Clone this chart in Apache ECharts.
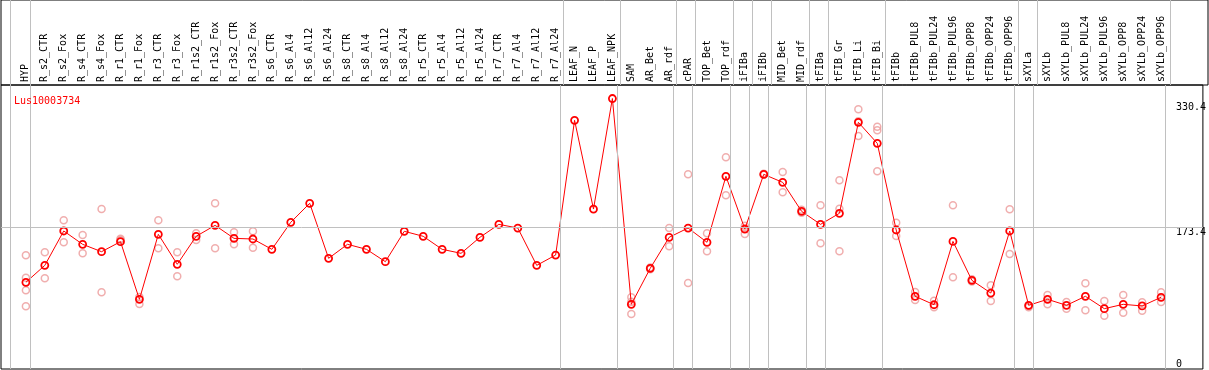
<!DOCTYPE html>
<html><head><meta charset="utf-8">
<script src="https://cdn.jsdelivr.net/npm/echarts@6/dist/echarts.min.js"></script>
<style>html,body{margin:0;padding:0;background:#fff}#c{width:1209px;height:370px}</style>
</head><body><div id="c"></div>
<script>
var title = 'Lus10003734';
var categories = ['HYP','R_s2_CTR','R_s2_Fox','R_s4_CTR','R_s4_Fox','R_r1_CTR','R_r1_Fox','R_r3_CTR','R_r3_Fox','R_r1s2_CTR','R_r1s2_Fox','R_r3s2_CTR','R_r3s2_Fox','R_s6_CTR','R_s6_Al4','R_s6_Al12','R_s6_Al24','R_s8_CTR','R_s8_Al4','R_s8_Al12','R_s8_Al24','R_r5_CTR','R_r5_Al4','R_r5_Al12','R_r5_Al24','R_r7_CTR','R_r7_Al4','R_r7_Al12','R_r7_Al24','LEAF_N','LEAF_P','LEAF_NPK','SAM','AR_Bet','AR_rdf','cPAR','TOP_Bet','TOP_rdf','iFIBa','iFIBb','MID_Bet','MID_rdf','tFIBa','tFIB_Gr','tFIB_Li','tFIB_Bi','tFIBb','tFIBb_PUL8','tFIBb_PUL24','tFIBb_PUL96','tFIBb_OPP8','tFIBb_OPP24','tFIBb_OPP96','sXYLa','sXYLb','sXYLb_PUL8','sXYLb_PUL24','sXYLb_PUL96','sXYLb_OPP8','sXYLb_OPP24','sXYLb_OPP96'];
var means = [105.9,126.6,168.6,152.3,143.3,155.5,85.1,164.5,127.9,162.1,175.5,159.6,158.8,146.2,179.2,202.4,135.2,152.3,146.2,131.1,168.2,162.1,146.2,141.3,160.9,176.7,172.2,126.6,139.2,303.8,195.4,330.4,79.0,123.0,160.9,172.2,154.8,235.4,171.0,237.8,228.0,192.6,176.7,190.2,301.3,275.7,169.8,88.8,78.5,155.9,108.3,92.8,168.6,77.8,85.1,77.8,88.8,73.7,79.0,77.0,87.6];
var replicates = [
  [138.9,111.5,96.1,76.6],[142.5,110.8],[181.6,154.8],[163.7,141.3],[195.4,93.7],[159.2,157.5],[79.4,88.0],[181.6,147.4],[142.5,113.2],[165.7,157.6],
  [202.4,147.4],[167.0,152.3],[168.2,148.2],[],[],[],[],[],[],[],
  [],[],[],[],[],[],[],[],[],[],
  [],[],[87.6,67.2,82.0],[124.0,122.0],[172.2,149.9],[237.8,105.0],[165.7,143.8],[258.6,212.2],[175.0,164.9],[238.5,237.2],
  [240.6,215.8],[194.5,190.8],[200.0,153.5],[230.5,195.8,143.8],[317.2,284.6,302.5],[296.0,291.6,241.5],[178.7,162.5],[94.1,84.3],[83.4,75.4],[200.0,112.0],
  [109.5,107.0],[102.2,83.1],[195.1,140.5],[77.0,75.5],[90.4,79.0],[81.8,73.7],[104.7,71.7],[83.1,65.1],[90.4,68.8],[81.5,71.2],
  [93.7,81.8]
];
var yTicks = [0, 173.4, 330.4];
var yGridValue = 173.4;
var groupEnds = [-1.07, 0, 28, 31, 34, 35, 37, 38, 39, 41, 42, 45, 52, 53, 60];

var FONT = 'DejaVu Sans Mono';
var yMax = yTicks[yTicks.length - 1] * 1.05;
var xMin = -1.3158, xMax = 62.2105;
var idx = categories.map(function (c, i) { return i; });
var meanData = means.map(function (v, i) { return [i, v]; });
var repData = [];
replicates.forEach(function (arr, i) { arr.forEach(function (v) { repData.push([i, v]); }); });
var vLines = groupEnds.map(function (g) { return { xAxis: g + 0.245 }; });

var chart = echarts.init(document.getElementById('c'), null, { renderer: 'canvas' });
chart.setOption({
  animation: false,
  backgroundColor: '#fff',
  title: { text: title, left: 9, top: 91, textStyle: { color: '#ff0000', fontFamily: FONT, fontSize: 10, fontWeight: 'normal' } },
  grid: [
    { left: 1, right: 1, top: 0, height: 85, show: true, borderColor: '#000', borderWidth: 1, backgroundColor: 'transparent' },
    { left: 1, right: 1, top: 85, bottom: 1, show: true, borderColor: '#000', borderWidth: 1, backgroundColor: 'transparent' }
  ],
  xAxis: [
    { gridIndex: 0, type: 'value', min: xMin, max: xMax, show: false },
    { gridIndex: 1, type: 'value', min: xMin, max: xMax, position: 'top',
      axisLine: { show: false }, axisTick: { show: false }, splitLine: { show: false },
      axisLabel: { customValues: idx, rotate: 90, margin: 3, color: '#000', fontFamily: FONT, fontSize: 10,
        formatter: function (v) { return categories[Math.round(v)] || ''; } } }
  ],
  yAxis: [
    { gridIndex: 0, type: 'value', min: 0, max: 1, show: false },
    { gridIndex: 1, type: 'value', min: 0, max: yMax, position: 'right',
      axisLine: { show: false }, axisTick: { show: false }, splitLine: { show: false },
      axisLabel: { customValues: yTicks, inside: true, align: 'left', margin: 27, verticalAlign: 'top',
        verticalAlignMinLabel: 'bottom', verticalAlignMaxLabel: 'top',
        color: '#000', fontFamily: FONT, fontSize: 10,
        formatter: function (v) { return v === yTicks[yTicks.length - 1] ? '{m|' + v + '}' : String(v); },
        rich: { m: { padding: [4, 0, 0, 0], fontFamily: FONT, fontSize: 10, color: '#000' } } } }
  ],
  series: [
    { type: 'scatter', xAxisIndex: 0, yAxisIndex: 0, data: [[0, -5]], symbolSize: 0, silent: true,
      markLine: { silent: true, symbol: 'none', label: { show: false }, lineStyle: { color: '#c0c0c0', width: 1, type: 'solid' }, data: vLines } },
    { type: 'scatter', xAxisIndex: 1, yAxisIndex: 1, data: repData, symbol: 'circle', symbolSize: 7, silent: true, z: 2,
      itemStyle: { color: 'transparent', borderColor: '#ec9a9a', borderWidth: 1.5 },
      markLine: { silent: true, symbol: 'none', label: { show: false }, lineStyle: { color: '#c0c0c0', width: 1, type: 'solid' },
        data: vLines.concat([{ yAxis: yGridValue }]) } },
    { type: 'line', xAxisIndex: 1, yAxisIndex: 1, data: meanData, symbol: 'circle', symbolSize: 7, z: 3,
      lineStyle: { color: '#ff0000', width: 1 },
      itemStyle: { color: 'transparent', borderColor: '#ff0000', borderWidth: 1.8 } }
  ]
});
</script></body></html>
